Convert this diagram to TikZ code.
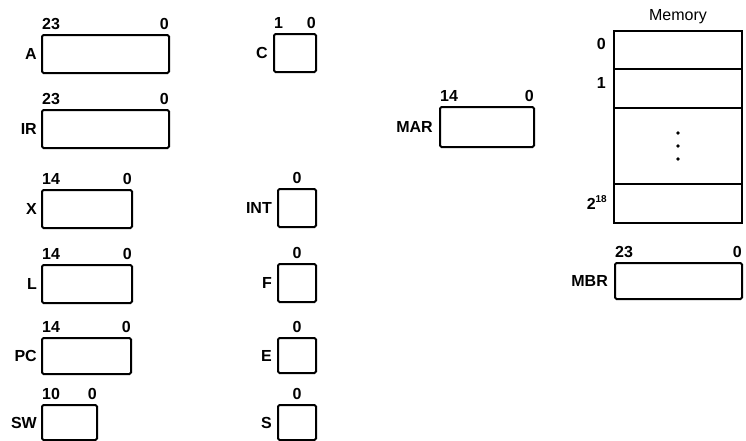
\documentclass[tikz,border=0pt]{standalone}
\usepackage{fontspec}
\setmainfont{Liberation Sans}
\begin{document}
\begin{tikzpicture}[x=1pt,y=-1pt,
  reg/.style={draw, line width=2pt, rounded corners=1.5pt, anchor=north west, inner sep=0pt, minimum height=38pt},
  row/.style={draw, line width=2pt, anchor=north west, inner sep=0pt, minimum width=128pt},
  nm/.style={font=\fontsize{16}{18}\selectfont\bfseries, anchor=east, inner sep=0pt},
  bit/.style={font=\fontsize{16}{18}\selectfont\bfseries, inner sep=0pt},
  dot/.style={circle, fill, inner sep=0pt, minimum size=3.6pt}]
\useasboundingbox (0,0) rectangle (746,440);
% column 1
\node[reg, minimum width=127pt] (A) at (41,34) {};
\node[reg, minimum width=127pt] (IR) at (41,109) {};
\node[reg, minimum width=90pt] (X) at (41,189) {};
\node[reg, minimum width=90pt] (L) at (41,264) {};
\node[reg, minimum width=89pt, minimum height=36pt] (PC) at (41,337) {};
\node[reg, minimum width=55pt, minimum height=35pt] (SW) at (41,404) {};
% column 2
\node[reg, minimum width=42pt] (C) at (273,33) {};
\node[reg, minimum width=38pt] (INT) at (277,188) {};
\node[reg, minimum width=38pt] (F) at (277,263) {};
\node[reg, minimum width=38pt, minimum height=35pt] (E) at (277,337) {};
\node[reg, minimum width=38pt, minimum height=35pt] (S) at (277,404) {};
% MAR, MBR
\node[reg, minimum width=94pt, minimum height=40pt] (MAR) at (439,106) {};
\node[reg, minimum width=127pt, minimum height=36pt] (MBR) at (614,262) {};
% memory
\node[row, minimum height=38pt] (m0) at (613,30) {};
\node[row, minimum height=39pt] (m1) at (613,68) {};
\node[row, minimum height=76pt] (md) at (613,107) {};
\node[row, minimum height=39pt] (mn) at (613,183) {};
\node[font=\fontsize{16}{18}\selectfont, anchor=south, inner sep=0pt] (memlbl) at ([shift={(0,-6)}]m0.north) {Memory};
\node[dot] (d1) at ([shift={(0,-13)}]md.center) {};
\node[dot] (d2) at (md.center) {};
\node[dot] (d3) at ([shift={(0,13)}]md.center) {};
\node[nm] (a0) at ([shift={(-7,-6)}]m0.west) {0};
\node[nm] (a1) at ([shift={(-7,-6)}]m1.west) {1};
\node[nm] (an) at ([shift={(-6,-1)}]mn.west) {2\raisebox{0.9ex}{\fontsize{10}{11}\selectfont 18}};
% names
\node[nm] (lA) at ([shift={(-4,0)}]A.west) {A};
\node[nm] (lIR) at ([shift={(-4,0)}]IR.west) {IR};
\node[nm] (lX) at ([shift={(-4,0)}]X.west) {X};
\node[nm] (lL) at ([shift={(-4,0)}]L.west) {L};
\node[nm] (lPC) at ([shift={(-4,0)}]PC.west) {PC};
\node[nm] (lSW) at ([shift={(-4,0)}]SW.west) {SW};
\node[nm] (lC) at ([shift={(-5,0)}]C.west) {C};
\node[nm] (lINT) at ([shift={(-5,0)}]INT.west) {INT};
\node[nm] (lF) at ([shift={(-5,0)}]F.west) {F};
\node[nm] (lE) at ([shift={(-5,0)}]E.west) {E};
\node[nm] (lS) at ([shift={(-5,0)}]S.west) {S};
\node[nm] (lMAR) at ([shift={(-6,0)}]MAR.west) {MAR};
\node[nm] (lMBR) at ([shift={(-6,0)}]MBR.west) {MBR};
% bit numbers
\foreach \r/\hi in {A/23, IR/23, X/14, L/14, PC/14, SW/10, C/1, MAR/14, MBR/23} {
  \node[bit, anchor=south west] (\r hi) at ([shift={(1,-4)}]\r.north west) {\hi};
  \node[bit, anchor=south east] (\r lo) at ([shift={(-1,-4)}]\r.north east) {0};
}
\foreach \r in {INT, F, E, S} {
  \node[bit, anchor=south] (\r lo) at ([shift={(0,-4)}]\r.north) {0};
}
\end{tikzpicture}
\end{document}
